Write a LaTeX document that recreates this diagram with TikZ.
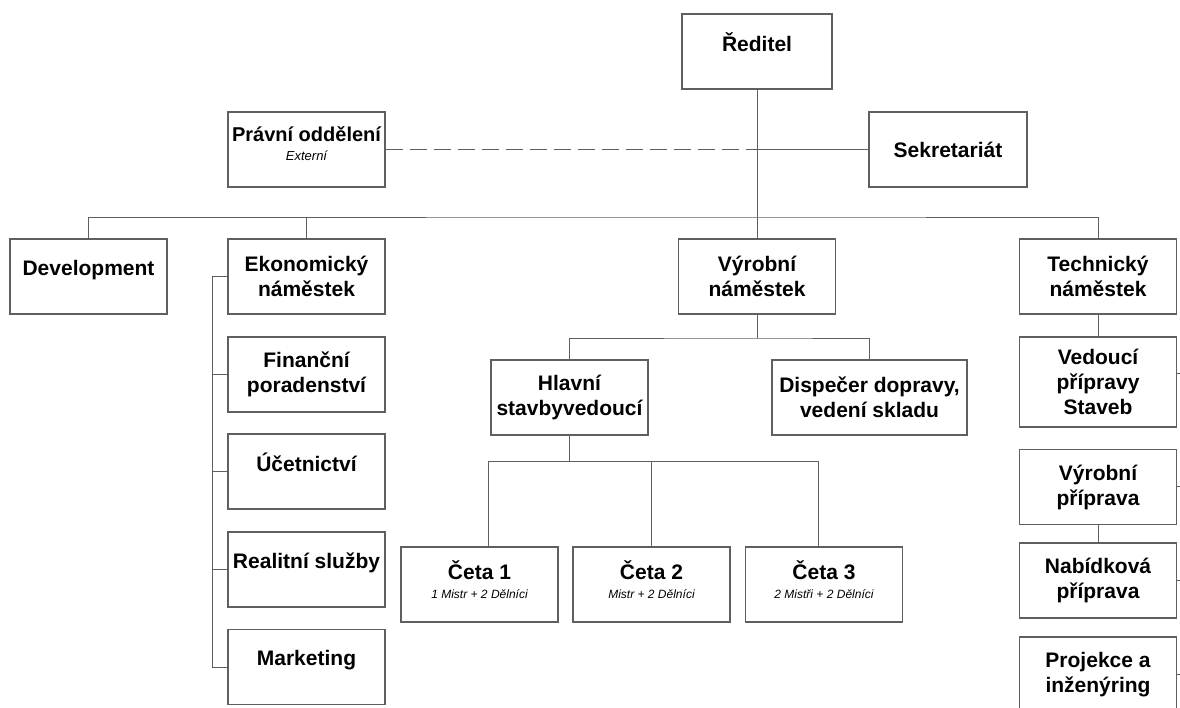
\documentclass[tikz,border=0pt]{standalone}
\usepackage{fontspec}
\setmainfont{Liberation Sans}
\usetikzlibrary{positioning}
\definecolor{linegray}{RGB}{95,95,95}

\begin{document}
\begin{tikzpicture}[x=1pt, y=-1pt,
  box/.style={draw=linegray, line width=1.3pt, rectangle, inner xsep=1pt, minimum width=157pt, minimum height=75pt, align=center, font=\fontsize{21}{25}\selectfont\bfseries},
  hi/.style={text depth=18pt},
  conn/.style={draw=linegray, line width=1pt}
]
\useasboundingbox (0,0) rectangle (1180,707);

% top level
\node[box, hi, minimum width=150pt] (red) at (757,51.5) {Ředitel};
\node[box, text depth=12pt, font=\fontsize{20}{24}\selectfont\bfseries] (pravni) at (306.5,149.5) {Právní oddělení\\[-5pt]{\fontsize{13}{15}\selectfont\itshape\mdseries Externí}};
\node[box, minimum width=158pt] (sekr) at (948,149.5) {Sekretariát};

% deputies
\node[box, hi] (dev) at (88.5,276.5) {Development};
\node[box] (ekon) at (306.5,276.5) {Ekonomický\\náměstek};
\node[box] (vyr) at (757,276.5) {Výrobní\\náměstek};
\node[box] (tech) at (1098,276.5) {Technický\\náměstek};

% economy branch
\node[box] (fin) at (306.5,374.5) {Finanční\\poradenství};
\node[box, hi] (uc) at (306.5,471.5) {Účetnictví};
\node[box, hi] (real) at (306.5,569.5) {Realitní služby};
\node[box, hi] (mark) at (306.5,667) {Marketing};

% production branch
\node[box] (hlav) at (569.5,397.5) {Hlavní\\stavbyvedoucí};
\node[box, minimum width=195pt] (disp) at (869.5,397.5) {Dispečer dopravy,\\vedení skladu};
\node[box, text depth=10pt] (ceta1) at (479.5,584.5) {Četa 1\\[-6pt]{\fontsize{12}{14}\selectfont\itshape\mdseries 1 Mistr + 2 Dělníci}};
\node[box, text depth=10pt] (ceta2) at (651.5,584.5) {Četa 2\\[-6pt]{\fontsize{12}{14}\selectfont\itshape\mdseries Mistr + 2 Dělníci}};
\node[box, text depth=10pt] (ceta3) at (824,584.5) {Četa 3\\[-6pt]{\fontsize{12}{14}\selectfont\itshape\mdseries 2 Mistři + 2 Dělníci}};

% technical branch
\node[box, minimum height=90pt] (ved) at (1098,382) {Vedoucí\\přípravy\\Staveb};
\node[box] (vyrpr) at (1098,487) {Výrobní\\příprava};
\node[box] (nab) at (1098,580.5) {Nabídková\\příprava};
\node[box] (proj) at (1098,674.5) {Projekce a\\inženýring};

% buses
\coordinate (bus) at (757,217);
\coordinate (vbus) at (757,338);
\coordinate (c1) at (488,461);
\coordinate (c3) at (818,461);
\coordinate (redx) at (757,149.5);

\draw[conn] (red.south) -- (bus);
\draw[conn] (dev.north) |- (bus) -| (tech.north);
\draw[conn] (ekon.north) -- (ekon.north |- bus);
\draw[conn] (bus) -- (vyr.north);
\draw[conn, dashed, dash pattern=on 17pt off 7pt] (pravni.east) -- (redx);
\draw[conn] (redx) -- (sekr.west);

\draw[conn] (ekon.west) -- ++(-15,0) |- (mark.west);
\foreach \n in {fin,uc,real}
  \draw[conn] (\n.west) -- ++(-15,0);

\draw[conn] (vyr.south) -- (vbus);
\draw[conn] (hlav.north) |- (vbus) -| (disp.north);
\draw[conn] (hlav.south) -- (hlav.south |- c1);
\draw[conn] (c1 |- ceta1.north) -- (c1) -- (c3) -- (c3 |- ceta3.north);
\draw[conn] (ceta2.north) -- (ceta2.north |- c1);

\draw[conn] (tech.south) -- (ved.north);
\draw[conn] (vyrpr.south) -- (nab.north);
\foreach \n/\y in {ved/373,vyrpr/486,nab/580,proj/674}
  \draw[conn] (\n.east |- 0,\y) -- (1185,\y);
\end{tikzpicture}
\end{document}
